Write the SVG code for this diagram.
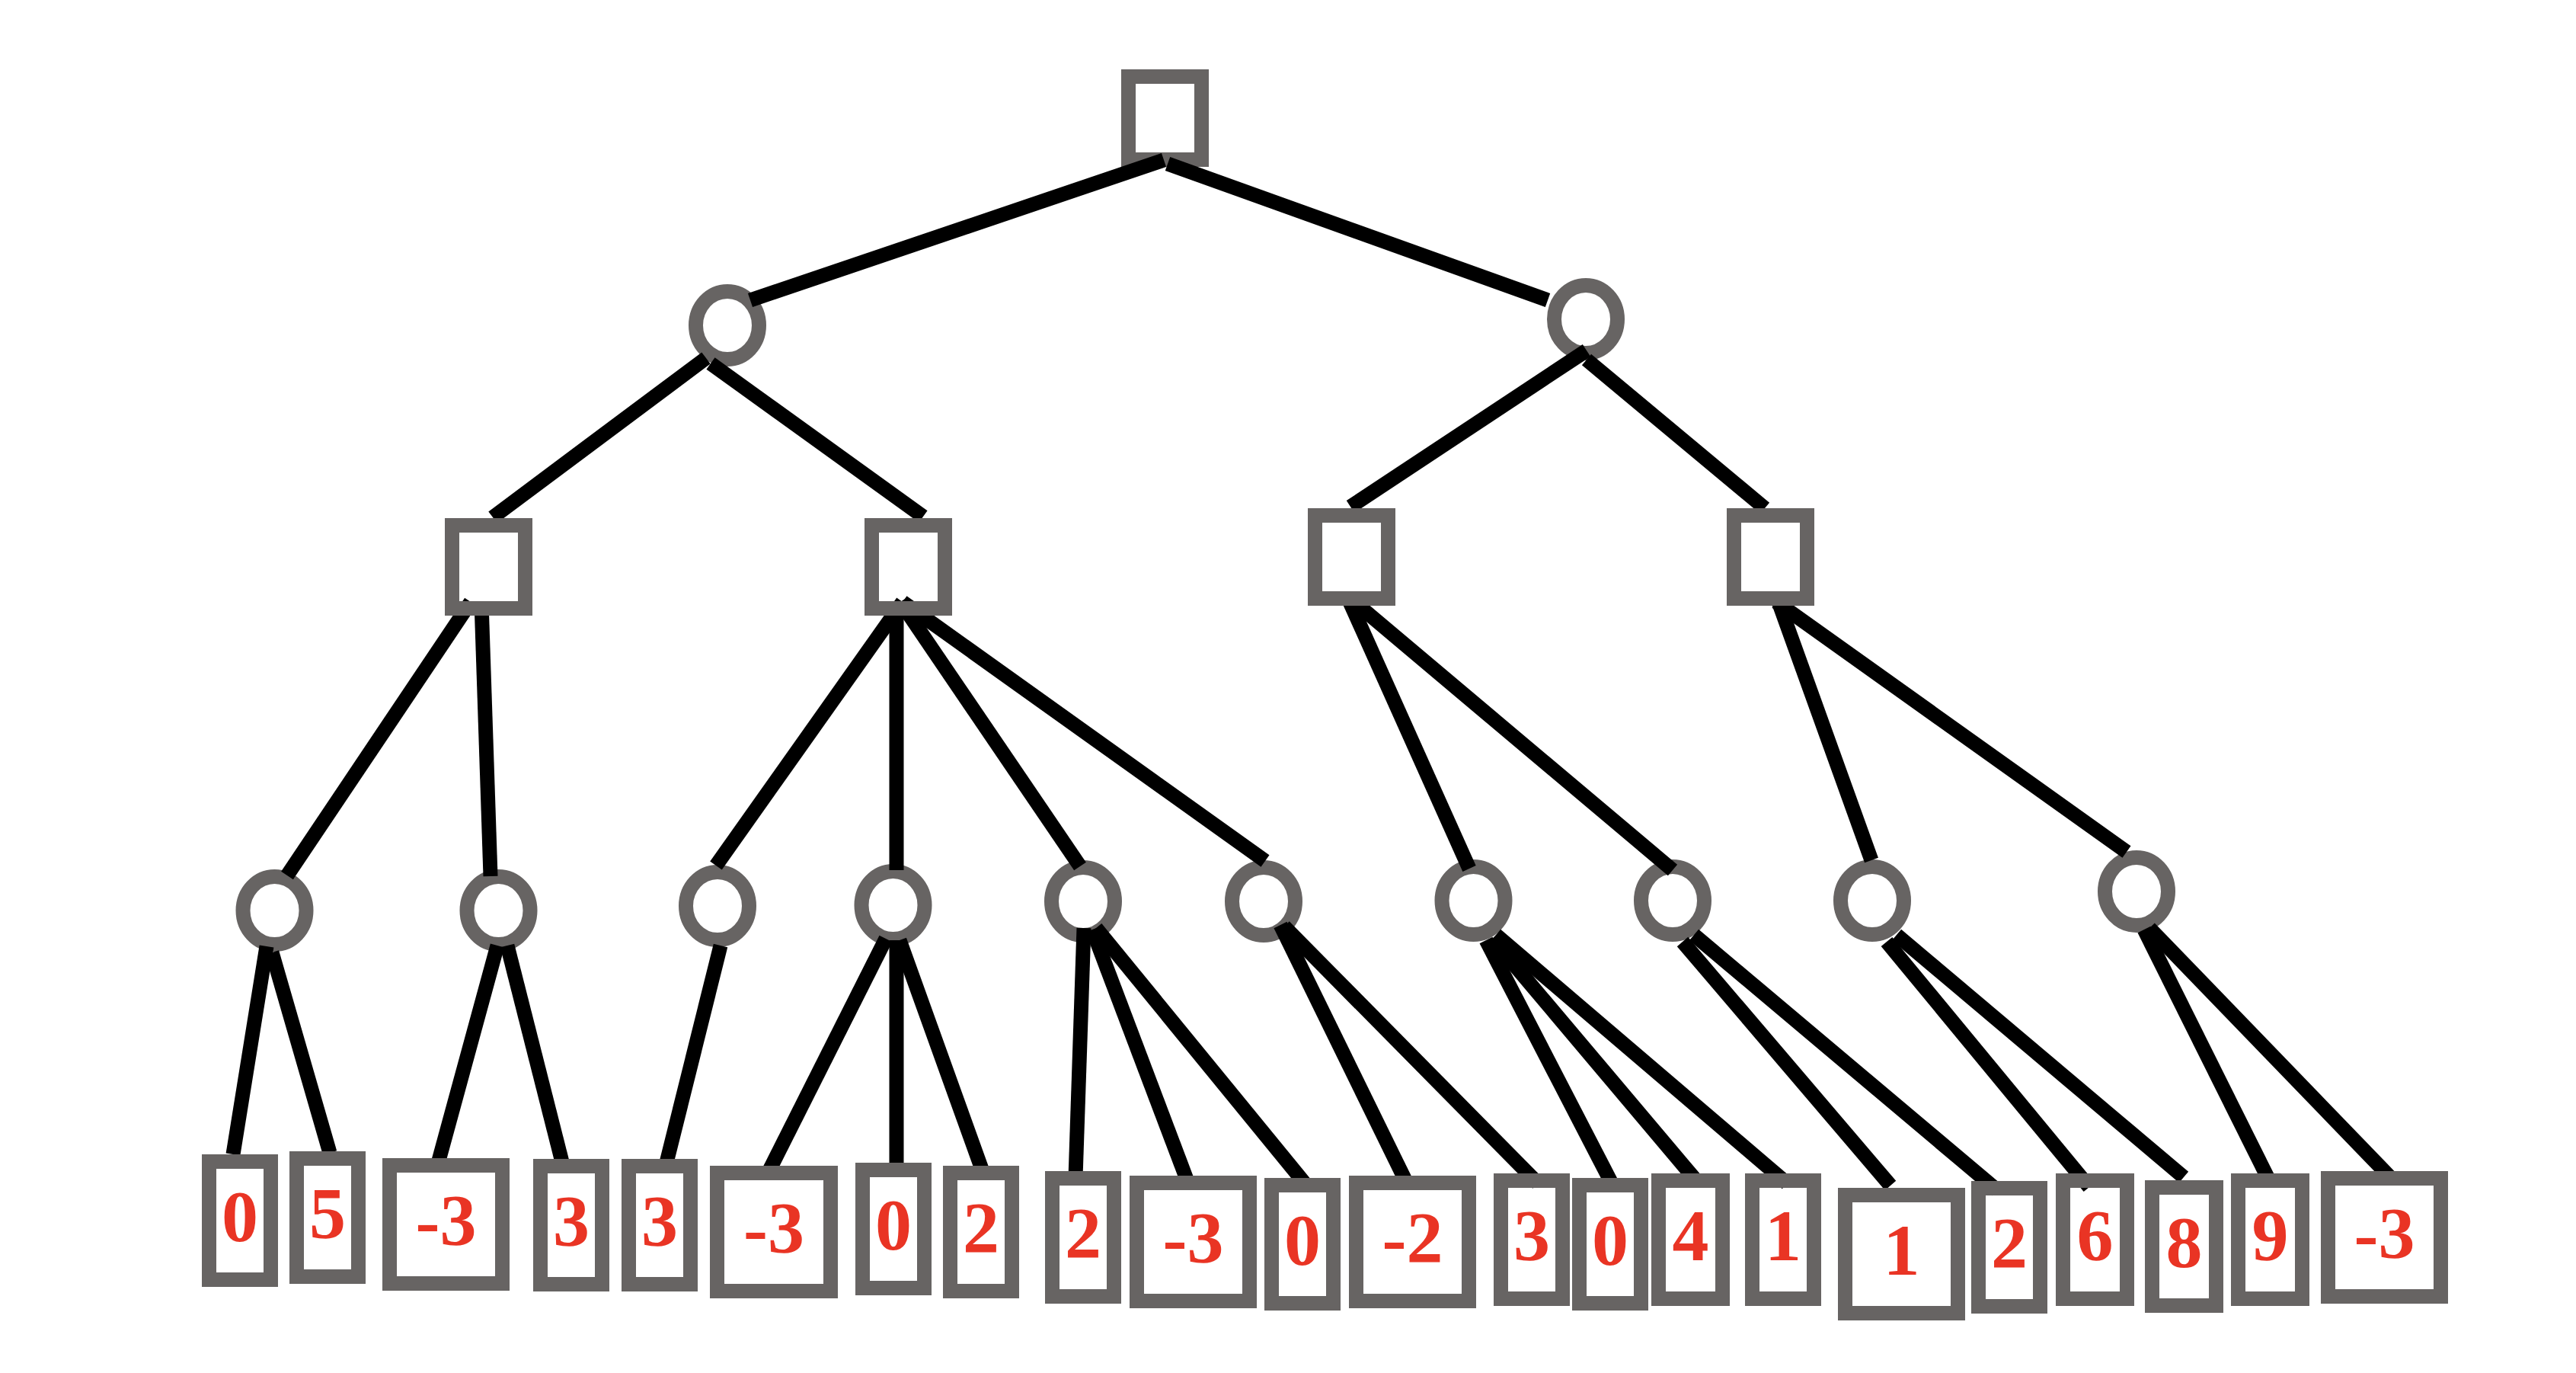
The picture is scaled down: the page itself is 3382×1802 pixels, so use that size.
<svg xmlns="http://www.w3.org/2000/svg" width="3382" height="1802" viewBox="0 0 3382 1802">
  <style>
    .sq { fill: none; stroke: #676463; stroke-width: 19; }
    .ci { fill: none; stroke: #676463; stroke-width: 19; }
    .ed { stroke: #000000; stroke-width: 19; stroke-linecap: butt; fill: none; }
    .val { font-family: "Liberation Serif", "Times New Roman", serif; font-weight: bold; font-size: 96px; fill: #E93424; text-anchor: middle; }
  </style>
  <rect x="0" y="0" width="3382" height="1802" fill="#ffffff"/>

  <!-- root (max) -->
  <g id="root"><rect class="sq" x="1481.5" y="100.5" width="96" height="109"/></g>

  <!-- chance nodes -->
  <g id="c-left"><ellipse class="ci" cx="955" cy="427" rx="41.5" ry="44.5"/></g>
  <g id="c-right"><ellipse class="ci" cx="2082" cy="419" rx="41.5" ry="44.5"/></g>
  <g id="c1"><ellipse class="ci" cx="360.5" cy="1195" rx="41.5" ry="44.5"/></g>
  <g id="c2"><ellipse class="ci" cx="654.5" cy="1195" rx="41.5" ry="44.5"/></g>
  <g id="c3"><ellipse class="ci" cx="942" cy="1189" rx="41.5" ry="44.5"/></g>
  <g id="c4"><ellipse class="ci" cx="1172.5" cy="1188" rx="41.5" ry="44.5"/></g>
  <g id="c5"><ellipse class="ci" cx="1422" cy="1183" rx="41.5" ry="44.5"/></g>
  <g id="c6"><ellipse class="ci" cx="1659" cy="1183" rx="41.5" ry="44.5"/></g>
  <g id="c7"><ellipse class="ci" cx="1934.5" cy="1182" rx="41.5" ry="44.5"/></g>
  <g id="c8"><ellipse class="ci" cx="2196" cy="1182" rx="41.5" ry="44.5"/></g>
  <g id="c9"><ellipse class="ci" cx="2458" cy="1182" rx="41.5" ry="44.5"/></g>
  <g id="c10"><ellipse class="ci" cx="2805" cy="1170" rx="41.5" ry="44.5"/></g>

  <!-- edges -->
  <g id="connectors">
    <line class="ed" x1="1528" y1="210" x2="985" y2="394"/>
    <line class="ed" x1="1533" y1="215" x2="2032" y2="394"/>

    <line class="ed" x1="927" y1="470" x2="647" y2="679"/>
    <line class="ed" x1="933" y1="477" x2="1212" y2="678"/>
    <line class="ed" x1="2083" y1="460" x2="1773" y2="665"/>
    <line class="ed" x1="2083" y1="472" x2="2317" y2="667"/>

    <line class="ed" x1="618" y1="790" x2="377" y2="1149"/>
    <line class="ed" x1="632" y1="790" x2="644" y2="1150"/>
    <line class="ed" x1="1185" y1="790" x2="940" y2="1136"/>
    <line class="ed" x1="1177" y1="790" x2="1177" y2="1142"/>
    <line class="ed" x1="1182" y1="790" x2="1418" y2="1137"/>
    <line class="ed" x1="1185" y1="790" x2="1661" y2="1130"/>
    <line class="ed" x1="1772" y1="790" x2="1929" y2="1140"/>
    <line class="ed" x1="1778" y1="790" x2="2196" y2="1142"/>
    <line class="ed" x1="2335" y1="790" x2="2457" y2="1129"/>
    <line class="ed" x1="2332" y1="790" x2="2792" y2="1118"/>

    <line class="ed" x1="350" y1="1242" x2="306" y2="1515"/>
    <line class="ed" x1="357" y1="1250" x2="433" y2="1513"/>
    <line class="ed" x1="653" y1="1241" x2="575" y2="1527"/>
    <line class="ed" x1="666" y1="1241" x2="740" y2="1533"/>
    <line class="ed" x1="946" y1="1241" x2="875" y2="1526"/>
    <line class="ed" x1="1163" y1="1232" x2="1008" y2="1540"/>
    <line class="ed" x1="1177" y1="1234" x2="1177" y2="1533"/>
    <line class="ed" x1="1181" y1="1234" x2="1291" y2="1540"/>
    <line class="ed" x1="1423" y1="1218" x2="1412" y2="1546"/>
    <line class="ed" x1="1434" y1="1220" x2="1560" y2="1553"/>
    <line class="ed" x1="1439" y1="1218" x2="1713" y2="1553"/>
    <line class="ed" x1="1681" y1="1214" x2="1847" y2="1553"/>
    <line class="ed" x1="1686" y1="1216" x2="2019" y2="1553"/>
    <line class="ed" x1="1951" y1="1234" x2="2116" y2="1553"/>
    <line class="ed" x1="1959" y1="1232" x2="2224" y2="1546"/>
    <line class="ed" x1="1964" y1="1227" x2="2346" y2="1553"/>
    <line class="ed" x1="2209" y1="1236" x2="2482" y2="1556"/>
    <line class="ed" x1="2224" y1="1227" x2="2622" y2="1562"/>
    <line class="ed" x1="2477" y1="1236" x2="2743" y2="1558"/>
    <line class="ed" x1="2490" y1="1227" x2="2867" y2="1545"/>
    <line class="ed" x1="2815" y1="1220" x2="2981" y2="1553"/>
    <line class="ed" x1="2822" y1="1218" x2="3139" y2="1546"/>
  </g>

  <!-- max nodes, second level -->
  <g id="m-a"><rect class="sq" x="593.5" y="689.5" width="96" height="109"/></g>
  <g id="m-b"><rect class="sq" x="1144.5" y="689.5" width="96" height="109"/></g>
  <g id="m-c"><rect class="sq" x="1726.5" y="676.5" width="96" height="109"/></g>
  <g id="m-d"><rect class="sq" x="2276.5" y="676.5" width="96" height="109"/></g>

  <!-- terminal values -->
  <g id="t1"><rect class="sq" x="274.5" y="1524.5" width="81" height="155"/><text class="val" x="315" y="1629">0</text></g>
  <g id="t2"><rect class="sq" x="389.5" y="1520.5" width="81" height="155"/><text class="val" x="430" y="1625">5</text></g>
  <g id="t3"><rect class="sq" x="511.5" y="1529.5" width="148" height="155"/><text class="val" x="585.5" y="1634">-3</text></g>
  <g id="t4"><rect class="sq" x="709.5" y="1530.5" width="81" height="155"/><text class="val" x="750" y="1635">3</text></g>
  <g id="t5"><rect class="sq" x="825.5" y="1530.5" width="81" height="155"/><text class="val" x="866" y="1635">3</text></g>
  <g id="t6"><rect class="sq" x="941.5" y="1539.5" width="149" height="155"/><text class="val" x="1016" y="1644">-3</text></g>
  <g id="t7"><rect class="sq" x="1132.5" y="1535.5" width="81" height="155"/><text class="val" x="1173" y="1640">0</text></g>
  <g id="t8"><rect class="sq" x="1247.5" y="1539.5" width="81" height="155"/><text class="val" x="1288" y="1644">2</text></g>
  <g id="t9"><rect class="sq" x="1381.5" y="1546.5" width="81" height="155"/><text class="val" x="1422" y="1651">2</text></g>
  <g id="t10"><rect class="sq" x="1492.5" y="1552.5" width="148" height="155"/><text class="val" x="1566.5" y="1657">-3</text></g>
  <g id="t11"><rect class="sq" x="1669.5" y="1555.5" width="81" height="155"/><text class="val" x="1710" y="1660">0</text></g>
  <g id="t12"><rect class="sq" x="1780.5" y="1552.5" width="148" height="155"/><text class="val" x="1854.5" y="1657">-2</text></g>
  <g id="t13"><rect class="sq" x="1970.5" y="1549.5" width="81" height="155"/><text class="val" x="2011" y="1654">3</text></g>
  <g id="t14"><rect class="sq" x="2073.5" y="1555.5" width="81" height="155"/><text class="val" x="2114" y="1660">0</text></g>
  <g id="t15"><rect class="sq" x="2177.5" y="1549.5" width="84" height="155"/><text class="val" x="2219.5" y="1654">4</text></g>
  <g id="t16"><rect class="sq" x="2300.5" y="1549.5" width="81" height="155"/><text class="val" x="2341" y="1654">1</text></g>
  <g id="t17"><rect class="sq" x="2422.5" y="1568.5" width="148" height="155"/><text class="val" x="2496.5" y="1673">1</text></g>
  <g id="t18"><rect class="sq" x="2597.5" y="1559.5" width="81" height="155"/><text class="val" x="2638" y="1664">2</text></g>
  <g id="t19"><rect class="sq" x="2708.5" y="1549.5" width="84" height="155"/><text class="val" x="2750.5" y="1654">6</text></g>
  <g id="t20"><rect class="sq" x="2825.5" y="1558.5" width="84" height="155"/><text class="val" x="2867.5" y="1663">8</text></g>
  <g id="t21"><rect class="sq" x="2938.5" y="1549.5" width="84" height="155"/><text class="val" x="2980.5" y="1654">9</text></g>
  <g id="t22"><rect class="sq" x="3056.5" y="1546.5" width="148" height="155"/><text class="val" x="3130.5" y="1651">-3</text></g>
</svg>
